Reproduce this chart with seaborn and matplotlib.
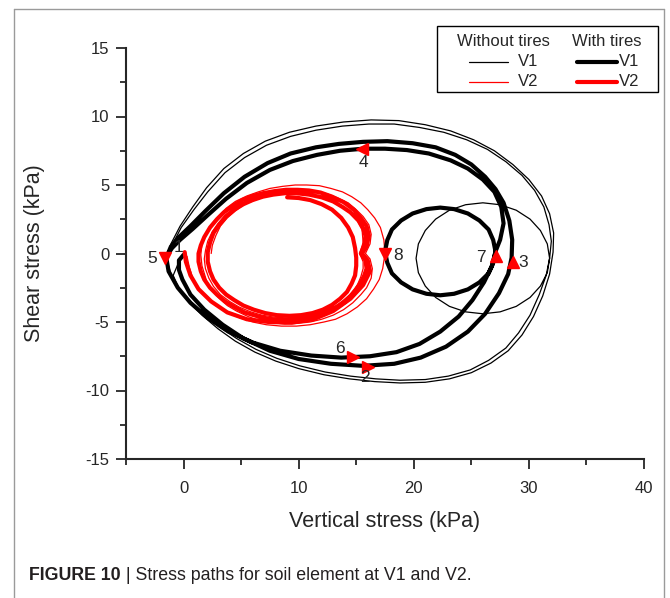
import matplotlib
matplotlib.use("Agg")
import matplotlib.pyplot as plt
import seaborn as sns
import numpy as np
from matplotlib.lines import Line2D
from matplotlib.patches import Rectangle

# ---- stress paths (vertical stress, shear stress) in kPa ----
# V1 without tires: two large loops, with the small loop on the right side
thin_v1 = [
    (-0.2, -0.2), (-0.9, -1.6), (-0.4, -2.6), (0.4, -3.5), (1.6, -4.5), (3.0, -5.5),
    (4.5, -6.4), (6.2, -7.2), (8.0, -7.85), (10.0, -8.4), (12.2, -8.85), (14.4, -9.15),
    (16.6, -9.35), (18.8, -9.45), (21.0, -9.4), (23.1, -9.15), (25.0, -8.7), (26.7, -8.0),
    (28.2, -7.1), (29.4, -5.95), (30.4, -4.6), (31.2, -3.1), (31.8, -1.5), (32.1, 0.1),
    (32.15, 1.5), (31.8, 2.9), (31.1, 4.2), (30.0, 5.4), (28.6, 6.5), (27.0, 7.5),
    (25.2, 8.3), (23.2, 8.95), (21.0, 9.4), (18.7, 9.7), (16.3, 9.75), (13.9, 9.6),
    (11.5, 9.3), (9.2, 8.85), (7.1, 8.2), (5.2, 7.3), (3.5, 6.2), (2.0, 4.8),
    (0.8, 3.4), (-0.3, 2.0), (-1.1, 0.7), (-1.5, -0.3),
    (-1.1, -1.5), (-0.4, -2.6), (0.5, -3.4), (1.7, -4.4), (3.1, -5.35), (4.6, -6.2),
    (6.3, -7.0), (8.1, -7.65), (10.1, -8.2), (12.3, -8.65), (14.5, -8.95), (16.7, -9.15),
    (18.8, -9.25), (21.0, -9.2), (23.0, -8.95), (24.9, -8.5), (26.5, -7.8), (28.0, -6.9),
    (29.1, -5.8), (30.1, -4.5), (30.9, -3.0), (31.5, -1.6), (31.8, -0.35),
    (31.6, 0.70), (31.0, 1.68), (30.1, 2.51), (28.9, 3.16), (27.5, 3.56), (26.0, 3.70),
    (24.5, 3.56), (23.1, 3.16), (21.9, 2.51), (21.0, 1.68), (20.4, 0.70), (20.2, -0.35),
    (20.4, -1.40), (21.0, -2.38), (21.9, -3.21), (23.1, -3.86), (24.5, -4.26), (26.0, -4.40),
    (27.5, -4.26), (28.9, -3.86), (30.1, -3.21), (31.0, -2.38), (31.6, -1.40), (31.8, -0.35),
    (31.95, 0.9), (31.75, 2.1), (31.3, 3.4), (30.5, 4.6), (29.4, 5.7), (28.0, 6.7),
    (26.4, 7.6), (24.6, 8.3), (22.6, 8.85), (20.5, 9.2), (18.3, 9.45), (16.1, 9.45),
    (13.8, 9.3), (11.5, 9.0), (9.3, 8.55), (7.2, 7.9), (5.3, 7.0), (3.6, 5.9),
    (2.1, 4.5), (0.9, 3.2), (-0.2, 1.9), (-1.0, 0.6), (-1.4, -0.2),
]

# V1 with tires
thick_v1 = [
    (0.0, -0.1), (-0.4, -0.5), (-0.4, -1.2), (-0.1, -1.9), (0.6, -3.0), (1.8, -4.1),
    (3.4, -5.2), (5.2, -6.2), (7.5, -7.1), (10.0, -7.7), (12.8, -8.05), (15.6, -8.2),
    (18.3, -8.05), (20.6, -7.6), (22.8, -6.8), (24.7, -5.7), (26.2, -4.4), (27.4, -2.9),
    (28.2, -1.5), (28.5, -0.3), (28.55, 1.0), (28.3, 2.4), (27.8, 3.7), (27.1, 4.7),
    (26.2, 5.6), (25.0, 6.5), (23.6, 7.2), (21.9, 7.75), (19.9, 8.05), (17.7, 8.2),
    (15.6, 8.15), (13.5, 8.0), (11.5, 7.75), (9.3, 7.3), (7.3, 6.6), (5.3, 5.6),
    (3.5, 4.4), (1.9, 3.1), (0.6, 2.0), (-0.4, 1.2), (-1.1, 0.5), (-1.5, -0.3),
    (-1.3, -1.3), (-0.5, -2.5), (0.6, -3.6), (2.1, -4.7), (3.9, -5.7), (6.0, -6.5),
    (8.4, -7.1), (11.1, -7.45), (13.7, -7.6), (16.2, -7.5), (18.5, -7.2), (20.5, -6.6),
    (22.3, -5.7), (23.9, -4.6), (25.1, -3.4), (26.1, -2.1), (26.8, -0.9), (27.1, 0.15),
    (26.9, 0.98), (26.5, 1.75), (25.7, 2.41), (24.7, 2.92), (23.5, 3.24), (22.3, 3.35),
    (21.1, 3.24), (19.9, 2.92), (18.9, 2.41), (18.1, 1.75), (17.7, 0.98), (17.5, 0.15),
    (17.7, -0.68), (18.1, -1.45), (18.9, -2.11), (19.9, -2.62), (21.1, -2.94), (22.3, -3.05),
    (23.5, -2.94), (24.7, -2.62), (25.7, -2.11), (26.5, -1.45), (26.9, -0.68), (27.1, 0.15),
    (27.5, 1.0), (27.8, 2.2), (27.6, 3.4), (27.0, 4.5), (26.0, 5.4), (24.7, 6.2),
    (23.2, 6.8), (21.3, 7.3), (19.4, 7.55), (17.5, 7.65), (15.6, 7.65), (13.6, 7.5),
    (11.6, 7.2), (9.5, 6.75), (7.5, 6.1), (5.5, 5.15), (3.7, 4.0), (2.1, 2.8),
    (0.8, 1.8), (-0.3, 1.0), (-1.0, 0.4), (-1.4, -0.1),
]

# V2 without tires
thin_v2 = [
    (0.3, -0.2), (0.5, -1.0), (0.8, -1.8), (1.3, -2.5), (2.0, -3.2), (2.8, -3.8),
    (3.8, -4.3), (4.9, -4.7), (6.0, -5.0), (7.2, -5.2), (8.5, -5.3), (9.8, -5.3),
    (11.0, -5.2), (12.2, -5.0), (13.2, -4.8), (14.2, -4.4), (15.1, -3.9), (15.9, -3.3),
    (16.5, -2.6), (17.0, -1.9), (17.3, -1.1), (17.5, 0.0), (17.4, 1.0), (17.1, 1.9),
    (16.6, 2.6), (16.0, 3.2), (15.4, 3.7), (14.6, 4.15), (13.8, 4.5), (12.8, 4.75),
    (11.8, 4.95), (10.7, 5.0), (9.7, 5.0), (8.6, 4.9), (7.5, 4.75), (6.5, 4.5),
    (5.5, 4.2), (4.5, 3.8), (3.7, 3.3), (3.0, 2.7), (2.4, 2.1), (1.9, 1.4),
    (1.6, 0.7), (1.5, -0.1), (1.6, -0.9), (2.0, -2.0), (2.5, -2.7), (3.0, -3.2),
    (3.8, -3.8), (4.6, -4.2), (5.6, -4.6), (6.6, -4.9), (7.7, -5.05), (8.8, -5.15),
    (9.9, -5.1), (11.0, -5.0), (12.0, -4.8), (13.0, -4.5), (13.9, -4.1), (14.7, -3.6),
    (15.4, -3.0), (15.9, -2.5), (16.3, -1.8), (16.4, -1.1), (16.2, -0.4), (15.8, 0.0),
    (16.2, 0.7), (16.3, 1.4), (16.1, 2.1), (15.6, 2.7), (15.0, 3.2), (14.3, 3.7),
    (13.4, 4.05), (12.5, 4.35), (11.4, 4.55), (10.3, 4.65), (9.2, 4.65), (8.1, 4.55),
    (7.1, 4.35), (6.1, 4.1), (5.2, 3.7), (4.4, 3.3), (3.6, 2.8), (3.0, 2.2),
    (2.5, 1.6), (2.1, 0.9), (1.9, 0.2), (1.8, -0.4), (1.9, -1.1), (2.2, -1.8),
    (2.6, -2.4), (3.2, -3.0), (4.0, -3.5), (4.8, -3.9), (5.8, -4.25), (6.8, -4.5),
    (7.9, -4.65), (9.0, -4.7), (10.1, -4.65), (11.2, -4.5), (12.2, -4.25), (13.1, -3.9),
    (13.9, -3.4), (14.6, -2.9), (15.1, -2.3), (15.4, -1.7), (15.6, -1.1), (15.6, -0.6),
    (15.3, 0.0), (15.6, 0.8), (15.5, 1.8), (15.1, 2.4), (14.6, 2.9), (13.9, 3.4),
    (13.1, 3.8), (12.2, 4.1), (11.2, 4.3), (10.2, 4.4), (9.2, 4.45), (8.2, 4.35),
    (7.2, 4.2), (6.2, 3.9), (5.3, 3.6), (4.5, 3.1), (3.8, 2.6), (3.2, 2.0),
    (2.8, 1.3), (2.5, 0.6), (2.4, 0.0),
]

# V2 with tires
thick_v2 = [
    (0.1, 0.1), (0.2, -0.6), (0.6, -1.6), (1.3, -2.6), (2.4, -3.5), (3.8, -4.3),
    (5.5, -4.8), (7.4, -5.0), (9.4, -5.05), (11.3, -4.8), (13.0, -4.2), (14.5, -3.3),
    (15.6, -2.3), (16.2, -1.3), (16.0, -0.5), (15.5, 0.0), (15.9, 0.5), (16.1, 1.3),
    (15.9, 2.0), (15.4, 2.6), (14.8, 3.2), (13.9, 3.75), (12.9, 4.15), (11.9, 4.45),
    (10.9, 4.6), (9.9, 4.65), (8.9, 4.65), (7.9, 4.55), (6.9, 4.4), (6.0, 4.2),
    (5.1, 3.9), (4.3, 3.5), (3.5, 3.0), (2.9, 2.5), (2.3, 1.9), (1.8, 1.2),
    (1.5, 0.6), (1.3, 0.0), (1.3, -0.6), (1.5, -1.3), (1.8, -1.9), (2.3, -2.5),
    (2.9, -3.0), (3.6, -3.5), (4.4, -3.9), (5.3, -4.3), (6.3, -4.55), (7.3, -4.75),
    (8.3, -4.85), (9.4, -4.85), (10.4, -4.75), (11.4, -4.6), (12.3, -4.3), (13.1, -4.0),
    (13.9, -3.6), (14.5, -3.1), (15.0, -2.6), (15.4, -2.1), (15.7, -1.6), (15.9, -1.1),
    (15.8, -0.5), (15.4, 0.0), (15.7, 0.6), (15.8, 1.3), (15.6, 1.8), (15.2, 2.4),
    (14.5, 3.0), (13.8, 3.4), (13.0, 3.8), (12.0, 4.1), (10.9, 4.3), (9.8, 4.4),
    (8.8, 4.4), (7.8, 4.3), (6.9, 4.15), (6.0, 3.9), (5.2, 3.6), (4.4, 3.2),
    (3.7, 2.7), (3.1, 2.1), (2.6, 1.5), (2.3, 0.8), (2.1, 0.1), (2.1, -0.6),
    (2.3, -1.3), (2.6, -1.9), (3.1, -2.5), (3.7, -3.0), (4.4, -3.4), (5.2, -3.8),
    (6.1, -4.1), (7.1, -4.35), (8.1, -4.5), (9.2, -4.55), (10.2, -4.5), (11.2, -4.35),
    (12.1, -4.1), (12.9, -3.75), (13.6, -3.3), (14.2, -2.8), (14.6, -2.2), (14.9, -1.6),
    (15.0, -0.9), (15.0, -0.3), (14.9, 0.4), (14.7, 1.2), (14.3, 1.9), (13.7, 2.6),
    (12.9, 3.2), (12.0, 3.6), (11.0, 3.9), (10.0, 4.05), (9.0, 4.1),
]

# direction arrows and point numbers
arrow_x = [16.0, 28.6, 15.5, -1.6, 14.7, 27.1, 17.5]
arrow_y = [-8.25, -0.65, 7.6, -0.35, -7.55, -0.2, 0.0]
arrow_mk = ['>', '^', '<', 'v', '>', '^', 'v']
point_lbl = ['1', '2', '3', '4', '5', '6', '7', '8']
lbl_x = [-0.45, 15.8, 29.5, 15.6, -2.75, 13.6, 25.8, 18.6]
lbl_y = [0.45, -9.05, -0.65, 6.65, -0.35, -6.9, -0.3, -0.15]

sns.set_style('ticks')
plt.rcParams['font.family'] = ['Liberation Sans', 'DejaVu Sans']
plt.rcParams['axes.unicode_minus'] = False

W, H = 670, 598
fig = plt.figure(figsize=(W / 100, H / 100), dpi=100)
ax = fig.add_axes([126 / W, 1 - 459 / H, (644 - 126) / W, (459 - 48) / H])


def draw(path, color, lw):
    x = [p[0] for p in path]
    y = [p[1] for p in path]
    sns.lineplot(x=x, y=y, sort=False, estimator=None, color=color,
                 linewidth=lw, ax=ax, solid_joinstyle='round')


draw(thin_v1, 'black', 0.9)
draw(thin_v2, '#ff0000', 0.9)
draw(thick_v1, 'black', 3.0)
draw(thick_v2, '#ff0000', 3.0)

for x, y, m in zip(arrow_x, arrow_y, arrow_mk):
    ax.plot(x, y, marker=m, color='#ff0000', markersize=8, linestyle='none', zorder=5)
for t, x, y in zip(point_lbl, lbl_x, lbl_y):
    ax.text(x, y, t, fontsize=12.5, ha='center', va='center', zorder=6)

ax.set_xlim(-5, 40)
ax.set_ylim(-15, 15)
ax.set_xticks([0, 10, 20, 30, 40])
ax.set_xticks([-5, 5, 15, 25, 35], minor=True)
ax.set_yticks([-15, -10, -5, 0, 5, 10, 15])
ax.set_yticks([-12.5, -7.5, -2.5, 2.5, 7.5, 12.5], minor=True)
ax.tick_params(which='major', direction='out', length=7, width=1.3, labelsize=12)
ax.tick_params(which='minor', direction='out', length=4, width=1.3)
ax.tick_params(axis='x', which='major', pad=9)
ax.tick_params(axis='y', which='major', pad=5)
sns.despine(ax=ax)
for s in ['left', 'bottom']:
    ax.spines[s].set_linewidth(1.5)

ax.set_xlabel('Vertical stress (kPa)', fontsize=15.5)
ax.set_ylabel('Shear stress (kPa)', fontsize=15.5)
ax.xaxis.set_label_coords(0.5, (459 - 521) / 411)
ax.xaxis.label.set_va('center')
ax.yaxis.set_label_coords((35 - 126) / 518, 0.5)
ax.yaxis.label.set_va('center')


# legend drawn by hand (two headed columns)
def fx(px):
    return px / W


def fy(py):
    return 1 - py / H


fig.add_artist(Rectangle((fx(437), fy(92)), fx(658) - fx(437), fy(26) - fy(92),
                         transform=fig.transFigure, fill=False, edgecolor='black', lw=1))
fig.text(fx(457), fy(41), 'Without tires', fontsize=12, va='center')
fig.text(fx(572), fy(41), 'With tires', fontsize=12, va='center')
for py, col, name in [(62, 'black', 'V1'), (82, '#ff0000', 'V2')]:
    fig.add_artist(Line2D([fx(469), fx(508)], [fy(py), fy(py)], color=col, lw=0.9,
                          transform=fig.transFigure))
    fig.text(fx(518), fy(py), name, fontsize=12, va='center')
    fig.add_artist(Line2D([fx(577), fx(617)], [fy(py), fy(py)], color=col, lw=3.0,
                          transform=fig.transFigure, solid_capstyle='round'))
    fig.text(fx(619), fy(py), name, fontsize=12, va='center')

# page frame and caption
frame_col = '#9a9a9a'
fig.add_artist(Line2D([fx(14), fx(664)], [fy(9), fy(9)], color=frame_col, lw=1,
                      transform=fig.transFigure))
fig.add_artist(Line2D([fx(14), fx(14)], [fy(9), 0], color=frame_col, lw=1,
                      transform=fig.transFigure))
fig.add_artist(Line2D([fx(664), fx(664)], [fy(9), 0], color=frame_col, lw=1,
                      transform=fig.transFigure))

cap1 = fig.text(fx(29), fy(576), 'FIGURE 10', fontsize=12.8, fontweight='bold',
                va='center', color='#231f20')
fig.canvas.draw()
bb = cap1.get_window_extent(fig.canvas.get_renderer())
fig.text(bb.x1 / W, fy(576), ' | Stress paths for soil element at V1 and V2.',
         fontsize=12.8, va='center', color='#231f20')

fig.savefig('out.png', dpi=100)
